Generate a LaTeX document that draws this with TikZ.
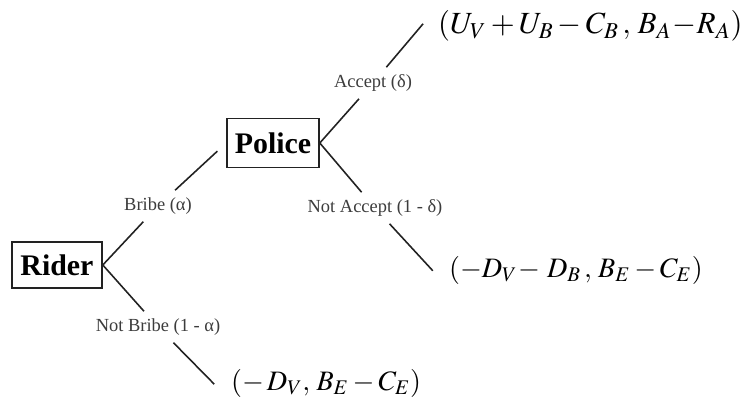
\documentclass[tikz,border=0pt]{standalone}
\usepackage{mathptmx}
\usepackage[no-math]{fontspec}
\setmainfont{Liberation Serif}
\usepackage{tikz}
\usetikzlibrary{positioning,calc}
\definecolor{inkgrey}{RGB}{34,34,34}
\definecolor{labgrey}{RGB}{60,60,60}
\tikzset{
  player/.style={draw=inkgrey,line width=0.9pt,inner sep=0pt,font=\fontsize{17}{19}\selectfont\bfseries},
  act/.style={font=\fontsize{10.5}{12}\selectfont,text=labgrey,inner sep=4pt},
  payoff/.style={font=\fontsize{16}{18}\selectfont,anchor=west,inner sep=1pt},
  branch/.style={draw=inkgrey,line width=0.9pt}
}
\begin{document}
\begin{tikzpicture}[x=1cm,y=1cm]
  \useasboundingbox (0,0) rectangle (14.96,8.08);
  % players
  \node[player,minimum width=1.8cm,minimum height=0.92cm] (rider) at (1.14,2.78) {Rider};
  \node[player,minimum width=1.84cm,minimum height=0.98cm] (police) at (5.46,5.22) {Police};

  % actions
  \node[act] (bribe) at (3.16,3.96) {Bribe (α)};
  \node[act] (notbribe) at (3.16,1.54) {Not Bribe (1 - α)};
  \node[act] (accept) at (7.46,6.42) {Accept (δ)};
  \node[act] (notaccept) at (7.50,3.92) {Not Accept (1 - δ)};

  % payoffs
  \node[payoff,font=\fontsize{17.5}{19}\selectfont] (payacc) at (8.72,7.56) {$(U_V + U_B - C_B\,,\, B_A\!-\!R_A)$};
  \node[payoff] (payrej) at (8.94,2.68) {$(-D_V\!-\, D_B\,,\, B_E - C_E)$};
  \node[payoff] (paynob) at (4.58,0.42) {$(-\,D_V,\, B_E - C_E)$};

  % rider's move
  \draw[branch] (rider.east) -- (bribe);
  \draw[branch,shorten >=0.24cm] (bribe) -- (police.west);
  \draw[branch] (rider.east) -- (notbribe);
  \draw[branch,shorten >=0.42cm] (notbribe) -- (paynob.south west);

  % police's move
  \draw[branch] (police.east) -- (accept);
  \draw[branch,shorten >=0.4cm] (accept) -- (payacc.north west);
  \draw[branch] (police.east) -- (notaccept);
  \draw[branch,shorten >=0.42cm] (notaccept) -- (payrej.south west);
\end{tikzpicture}
\end{document}
